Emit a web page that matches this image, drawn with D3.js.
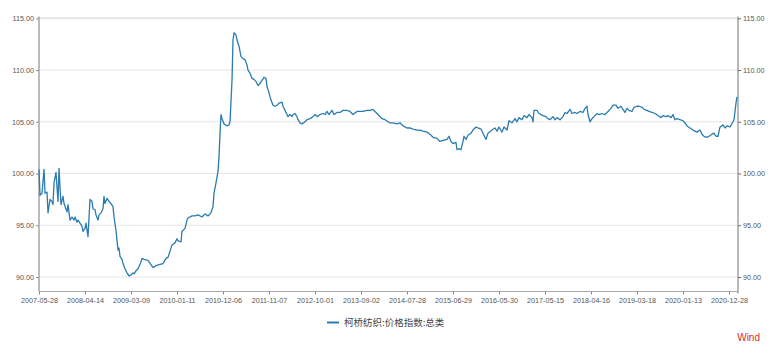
<!DOCTYPE html>
<html>
<head>
<meta charset="utf-8">
<script src="https://cdn.jsdelivr.net/npm/d3@7"></script>
<style>
  html, body { margin: 0; padding: 0; background: #fff; }
  svg { display: block; }
</style>
</head>
<body>
<svg id="chart" width="775" height="353"></svg>
<script>
// ---- data ----
const seriesName = "柯桥纺织:价格指数:总类";
// x position = weekly observation index (0 = 2007-05-28)
const weekIndex = [
  0,1,3,5,6,8,9,11,13,14,15,17,19,20,21,22,24,25,28,29,31,33,35,36,38,39,41,43,44,46,47,49,
  51,53,54,56,57,59,60,62,64,65,66,68,70,72,74,75,77,79,80,81,83,84,86,88,90,92,94,95,97,99,
  101,103,105,109,112,114,117,120,124,127,129,131,133,136,138,139,142,143,146,148,149,153,156,159,
  163,166,169,172,174,175,177,179,180,181,182,183,185,188,190,191,193,194,195,197,198,200,202,204,
  206,208,209,211,213,215,217,219,220,223,225,227,228,230,232,234,236,238,240,243,244,246,248,249,
  251,253,254,256,258,259,261,263,266,268,271,274,276,278,281,284,286,288,290,293,295,298,301,304,
  308,311,314,318,321,324,328,331,334,336,339,343,346,349,351,354,358,361,364,368,371,374,378,381,
  384,388,391,394,398,401,404,408,410,412,414,417,418,420,422,424,425,427,429,432,434,437,439,442,
  444,447,449,453,456,458,460,463,465,468,470,473,476,478,480,483,485,488,490,493,494,495,498,500,
  504,507,509,511,514,516,518,521,524,526,528,531,533,536,538,541,544,546,548,549,551,553,555,558,
  560,563,566,569,572,574,577,579,582,584,586,588,590,593,595,598,600,603,605,608,610,613,616,619,
  622,624,627,629,632,634,636,638,641,644,646,648,651,654,656,658,661,663,665,668,670,673,675,677,
  679,681,684,686,688,691,694,695,697,698
];
const priceIndex = [
  100.4,97.9,98.1,100.4,98.1,98.2,96.2,97.5,97.3,97.0,99.1,100.1,97.3,100.5,98.7,97.0,97.8,97.1,96.3,97.0,95.5,95.8,95.5,95.8,95.3,95.5,95.2,94.9,94.4,94.7,95.2,93.9,
  97.5,97.3,96.6,96.5,96.0,95.5,96.0,96.2,96.6,97.8,97.1,97.6,97.3,97.1,96.8,95.8,94.5,92.6,92.8,92.0,91.7,91.3,90.8,90.4,90.1,90.2,90.4,90.3,90.6,90.8,
  91.2,91.8,91.7,91.6,91.2,90.9,91.1,91.2,91.3,91.8,91.9,92.5,93.1,93.3,93.7,93.5,93.4,94.4,94.7,95.5,95.7,95.9,95.9,96.0,
  95.8,96.1,95.9,96.2,96.8,98.1,99.1,100.2,101.6,103.9,105.7,105.3,104.8,104.6,104.7,105.0,109.0,112.9,113.6,113.4,112.9,112.3,111.3,111.1,
  111.0,110.5,110.0,109.7,109.2,109.1,108.9,108.5,108.6,109.0,109.3,109.2,108.4,107.8,107.1,106.6,106.5,106.6,106.8,106.9,106.5,106.1,105.7,105.5,
  105.7,105.5,105.7,105.8,105.5,105.2,104.9,104.8,105.0,105.2,105.3,105.5,105.7,105.5,105.7,105.8,105.7,106.0,105.7,106.1,105.7,105.9,105.9,106.1,
  106.1,106.0,105.7,106.0,106.0,106.0,106.1,106.1,106.2,106.0,105.7,105.3,105.2,105.0,104.9,104.9,104.8,104.9,104.6,104.4,104.4,104.3,104.2,104.2,
  104.1,104.0,103.8,103.5,103.4,103.1,103.2,103.3,103.6,103.1,102.9,103.0,102.3,102.4,102.3,103.1,103.6,103.3,103.7,103.9,104.2,104.5,104.4,104.3,
  103.9,103.3,103.9,104.2,104.4,104.1,104.5,104.0,104.5,104.2,105.1,104.9,105.3,105.0,105.4,105.2,105.6,105.4,105.7,105.4,105.0,106.1,106.1,105.8,
  105.6,105.5,105.3,105.2,105.5,105.2,105.4,105.2,105.5,105.9,105.8,106.2,105.8,105.9,105.8,106.0,105.9,106.3,106.5,105.7,105.0,105.3,105.5,105.8,
  105.7,105.8,105.7,106.0,106.3,106.6,106.6,106.3,106.5,106.2,105.9,106.3,106.1,106.0,106.4,106.5,106.5,106.4,106.2,106.1,106.0,105.9,105.8,105.6,
  105.4,105.6,105.5,105.6,105.4,105.7,105.2,105.3,105.2,105.1,104.9,104.6,104.4,104.2,104.1,104.0,104.2,103.8,103.6,103.5,103.6,103.8,103.9,103.6,
  103.6,104.5,104.7,104.4,104.6,104.5,105.0,105.2,106.8,107.4
];
const xTickIndex = [0,46,92,138,184,230,276,322,368,414,460,506,552,598,644,690];
const xTickLabels = ["2007-05-28","2008-04-14","2009-03-09","2010-01-11","2010-12-06","2011-11-07",
  "2012-10-01","2013-09-02","2014-07-28","2015-06-29","2016-05-30","2017-05-15","2018-04-16",
  "2019-03-18","2020-01-13","2020-12-28"];
const yTicks = [90,95,100,105,110,115];

// ---- layout ----
const svg = d3.select("#chart");
const plotLeft = 39, plotRight = 738, plotTop = 18.3, yAt90 = 277, plotBottom = 291.5;
const lineColor = "#2a7cb0";

const x = d3.scaleLinear().domain([0, 698]).range([plotLeft, 737]);
const y = d3.scaleLinear().domain([90, 115]).range([yAt90, plotTop]);

const data = weekIndex.map((w, i) => ({ w, v: priceIndex[i] }));

// grid lines
svg.append("g").selectAll("line").data(yTicks).join("line")
  .attr("x1", plotLeft).attr("x2", plotRight)
  .attr("y1", d => y(d)).attr("y2", d => y(d))
  .attr("stroke", "#e6e6e6")
  .attr("stroke-width", d => d === 115 ? 2 : 1);

const fontTick = "'Liberation Sans', Arial, sans-serif";

// left axis
const yAxisL = d3.axisLeft(y).tickValues(yTicks).tickFormat(d3.format(".2f")).tickSize(3).tickPadding(2);
const gL = svg.append("g").attr("transform", `translate(${plotLeft},0)`).call(yAxisL);
gL.select(".domain").remove();
gL.selectAll(".tick line").attr("stroke", "#888");
gL.selectAll("text").attr("fill", "#555").attr("font-size", 7.2).attr("font-family", fontTick);
svg.append("line").attr("x1", plotLeft).attr("x2", plotLeft).attr("y1", 16.5).attr("y2", plotBottom)
  .attr("stroke", "#aaa").attr("stroke-width", 1.6);

// right axis
const yAxisR = d3.axisRight(y).tickValues(yTicks).tickFormat(d3.format(".2f")).tickSize(3).tickPadding(2);
const gR = svg.append("g").attr("transform", `translate(${plotRight},0)`).call(yAxisR);
gR.select(".domain").remove();
gR.selectAll(".tick line").attr("stroke", "#666");
gR.selectAll("text").attr("fill", "#555").attr("font-size", 7.2).attr("font-family", fontTick);
svg.append("line").attr("x1", plotRight).attr("x2", plotRight).attr("y1", 16.5).attr("y2", 293.5)
  .attr("stroke", "#777").attr("stroke-width", 1);

// bottom axis
const xAxis = d3.axisBottom(x).tickValues(xTickIndex)
  .tickFormat((d, i) => xTickLabels[i]).tickSize(3).tickPadding(3);
const gB = svg.append("g").attr("transform", `translate(0,${plotBottom})`).call(xAxis);
gB.select(".domain").remove();
gB.selectAll(".tick line").attr("stroke", "#888");
gB.selectAll("text").attr("fill", "#555").attr("font-size", 7.2).attr("font-family", fontTick);
svg.append("line").attr("x1", plotLeft).attr("x2", plotRight).attr("y1", plotBottom).attr("y2", plotBottom)
  .attr("stroke", "#aaa").attr("stroke-width", 1);

// series line
const line = d3.line().x(d => x(d.w)).y(d => y(d.v));
svg.append("path").datum(data)
  .attr("d", line)
  .attr("fill", "none")
  .attr("stroke", lineColor)
  .attr("stroke-width", 1.3)
  .attr("stroke-linejoin", "round");

// legend
const lg = svg.append("g").attr("transform", "translate(327,322.5)");
lg.append("line").attr("x1", 0).attr("x2", 12).attr("y1", 0).attr("y2", 0)
  .attr("stroke", lineColor).attr("stroke-width", 2);
lg.append("text").attr("x", 17).attr("y", 0).attr("dy", "0.35em")
  .attr("font-size", 9.5).attr("fill", "#444")
  .attr("font-family", "'Noto Sans CJK SC', sans-serif")
  .text(seriesName);

// watermark
svg.append("text").attr("x", 760).attr("y", 341).attr("text-anchor", "end")
  .attr("font-size", 10).attr("fill", "#e02a2a")
  .attr("font-family", fontTick)
  .text("Wind");
</script>
</body>
</html>
